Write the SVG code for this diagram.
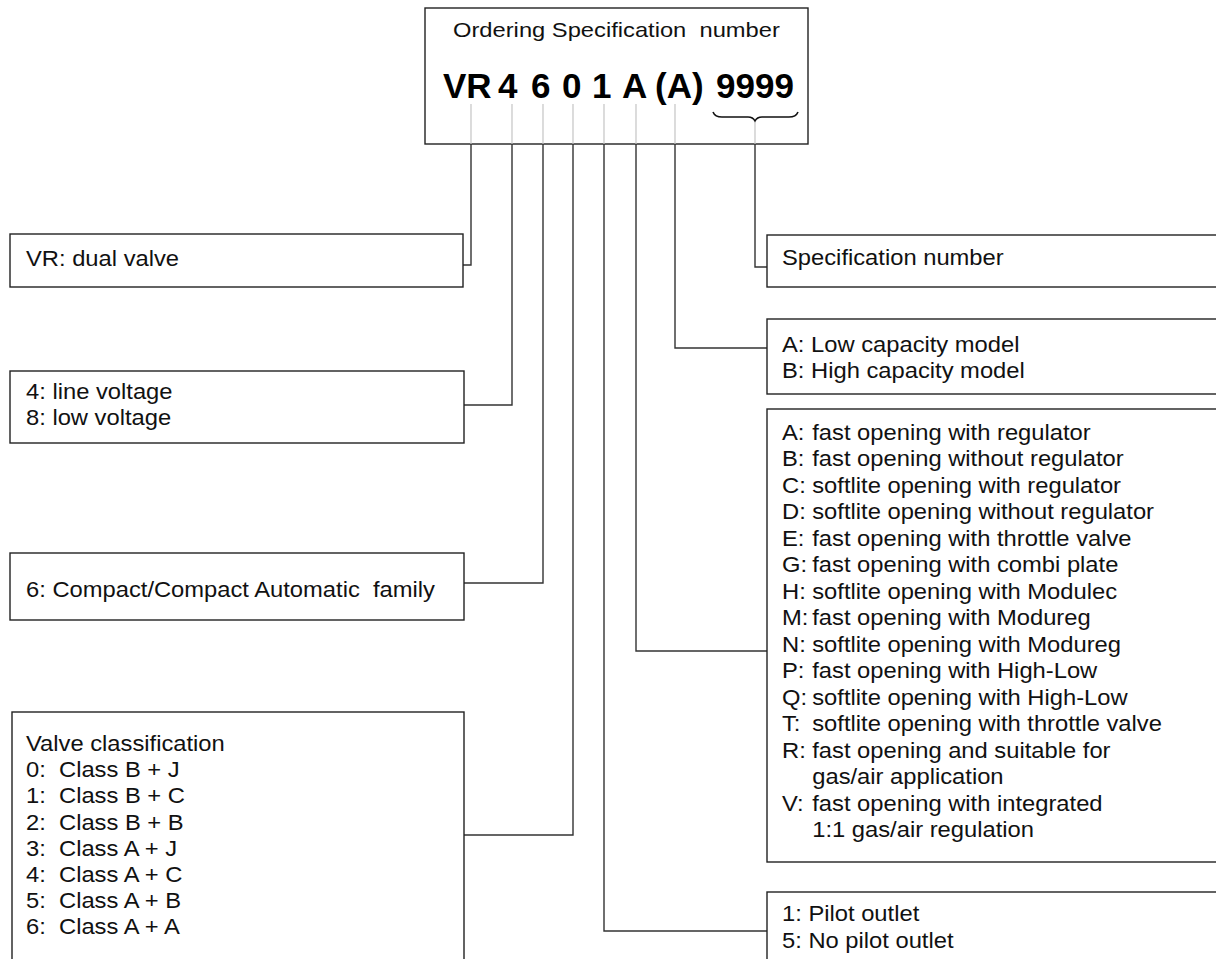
<svg xmlns="http://www.w3.org/2000/svg" width="1216" height="959" viewBox="0 0 1216 959" xml:space="preserve">
<style>
.t { font-family: "Liberation Sans", Arial, Helvetica, sans-serif; font-size: 22px; fill: #111; white-space: pre; }
.ti { font-family: "Liberation Sans", Arial, Helvetica, sans-serif; font-size: 21px; fill: #111; white-space: pre; }
.b { font-family: "Liberation Sans", Arial, Helvetica, sans-serif; font-weight: bold; font-size: 35px; fill: #000; }
.box { fill: #fff; stroke: #222; stroke-width: 1.4; }
.con { fill: none; stroke: #333; stroke-width: 1.4; }
.tick { fill: none; stroke: #c4c4c4; stroke-width: 1.2; }
</style>
<rect width="1216" height="959" fill="#fff"/>
<g id="header">
<rect class="box" x="425" y="8" width="383" height="136"/>
<text class="ti" transform="translate(453,37) scale(1.13,1)">Ordering Specification  number</text>
<text class="b" x="443" y="98">VR</text>
<text class="b" x="498" y="98">4</text>
<text class="b" x="531" y="98">6</text>
<text class="b" x="562" y="98">0</text>
<text class="b" x="592" y="98">1</text>
<text class="b" x="622" y="98">A</text>
<text class="b" x="655" y="98">(A)</text>
<text class="b" x="716" y="98">9999</text>
<path class="con" d="M713,112 Q715,117 722,117 L748,117 Q753,117 755,121 Q757,117 762,117 L789,117 Q796,117 798,112" style="stroke:#111;stroke-width:1.6"/>
<g class="tick">
<line x1="471" y1="104" x2="471" y2="144"/>
<line x1="512" y1="104" x2="512" y2="144"/>
<line x1="543" y1="104" x2="543" y2="144"/>
<line x1="573" y1="104" x2="573" y2="144"/>
<line x1="604" y1="104" x2="604" y2="144"/>
<line x1="636" y1="104" x2="636" y2="144"/>
<line x1="675" y1="104" x2="675" y2="144"/>
<line x1="755" y1="122" x2="755" y2="144"/>
</g>
</g>
<g id="connectors">
<path class="con" d="M471,144 V265 H463"/>
<path class="con" d="M512,144 V405 H464"/>
<path class="con" d="M543,144 V583 H464"/>
<path class="con" d="M573,144 V835 H464"/>
<path class="con" d="M604,144 V931 H767"/>
<path class="con" d="M636,144 V651 H767"/>
<path class="con" d="M675,144 V348 H767"/>
<path class="con" d="M755,144 V267 H767"/>
</g>
<g id="node-vr">
<rect class="box" x="10" y="234" width="453" height="53"/>
<text class="t" transform="translate(26,266) scale(1.08,1)">VR: dual valve</text>
</g>
<g id="node-voltage">
<rect class="box" x="10" y="371" width="454" height="72"/>
<text class="t" transform="translate(26,399) scale(1.08,1)"><tspan x="0" y="0">4: line voltage</tspan><tspan x="0" y="26">8: low voltage</tspan></text>
</g>
<g id="node-family">
<rect class="box" x="10" y="553" width="454" height="67"/>
<text class="t" transform="translate(26,597) scale(1.08,1)">6: Compact/Compact Automatic  family</text>
</g>
<g id="node-class">
<rect class="box" x="12" y="712" width="452" height="260"/>
<text class="t" transform="translate(26,751) scale(1.08,1)"><tspan x="0" y="0">Valve classification</tspan><tspan x="0" y="26.2">0:  Class B + J</tspan><tspan x="0" y="52.4">1:  Class B + C</tspan><tspan x="0" y="78.6">2:  Class B + B</tspan><tspan x="0" y="104.8">3:  Class A + J</tspan><tspan x="0" y="131">4:  Class A + C</tspan><tspan x="0" y="157.2">5:  Class A + B</tspan><tspan x="0" y="183.4">6:  Class A + A</tspan></text>
</g>
<g id="node-spec">
<rect class="box" x="767" y="235" width="470" height="52"/>
<text class="t" transform="translate(782,265) scale(1.08,1)">Specification number</text>
</g>
<g id="node-capacity">
<rect class="box" x="767" y="319" width="470" height="75"/>
<text class="t" transform="translate(782,352) scale(1.08,1)"><tspan x="0" y="0">A: Low capacity model</tspan><tspan x="0" y="26">B: High capacity model</tspan></text>
</g>
<g id="node-options">
<rect class="box" x="767" y="409" width="470" height="453"/>
<text class="t" transform="translate(782,440) scale(1.08,1)"><tspan x="0" y="0">A:</tspan><tspan x="28" y="0">fast opening with regulator</tspan><tspan x="0" y="26.47">B:</tspan><tspan x="28" y="26.47">fast opening without regulator</tspan><tspan x="0" y="52.94">C:</tspan><tspan x="28" y="52.94">softlite opening with regulator</tspan><tspan x="0" y="79.41">D:</tspan><tspan x="28" y="79.41">softlite opening without regulator</tspan><tspan x="0" y="105.88">E:</tspan><tspan x="28" y="105.88">fast opening with throttle valve</tspan><tspan x="0" y="132.35">G:</tspan><tspan x="28" y="132.35">fast opening with combi plate</tspan><tspan x="0" y="158.82">H:</tspan><tspan x="28" y="158.82">softlite opening with Modulec</tspan><tspan x="0" y="185.29">M:</tspan><tspan x="28" y="185.29">fast opening with Modureg</tspan><tspan x="0" y="211.76">N:</tspan><tspan x="28" y="211.76">softlite opening with Modureg</tspan><tspan x="0" y="238.23">P:</tspan><tspan x="28" y="238.23">fast opening with High-Low</tspan><tspan x="0" y="264.7">Q:</tspan><tspan x="28" y="264.7">softlite opening with High-Low</tspan><tspan x="0" y="291.17">T:</tspan><tspan x="28" y="291.17">softlite opening with throttle valve</tspan><tspan x="0" y="317.64">R:</tspan><tspan x="28" y="317.64">fast opening and suitable for</tspan><tspan x="28" y="344.11">gas/air application</tspan><tspan x="0" y="370.58">V:</tspan><tspan x="28" y="370.58">fast opening with integrated</tspan><tspan x="28" y="397.05">1:1 gas/air regulation</tspan></text>
</g>
<g id="node-pilot">
<rect class="box" x="767" y="892" width="470" height="80"/>
<text class="t" transform="translate(782,921) scale(1.08,1)"><tspan x="0" y="0">1: Pilot outlet</tspan><tspan x="0" y="27">5: No pilot outlet</tspan></text>
</g>
</svg>
